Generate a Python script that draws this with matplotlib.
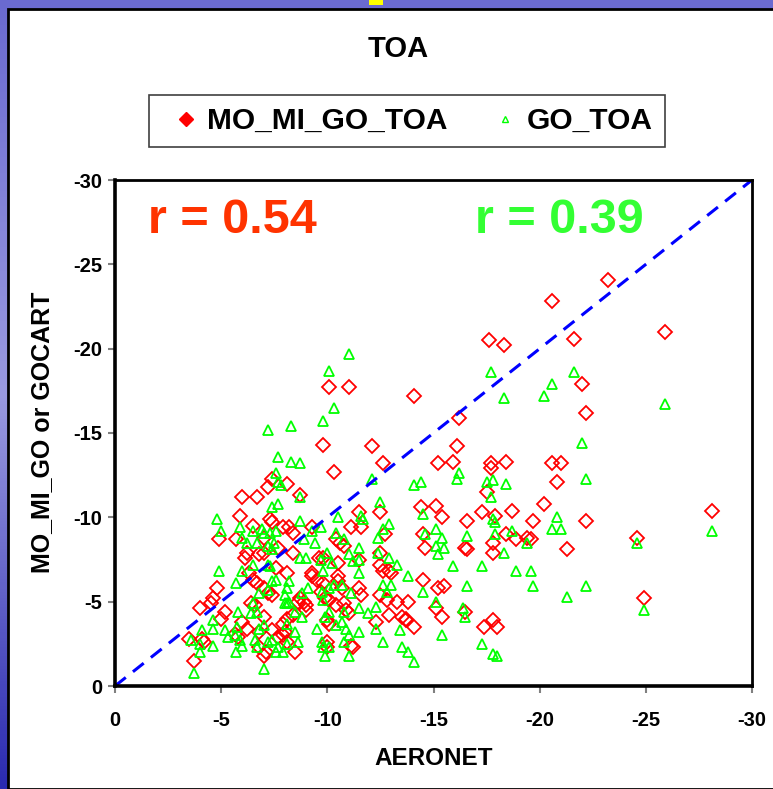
import numpy as np
import matplotlib.pyplot as plt
from matplotlib.lines import Line2D
from matplotlib.patches import Rectangle

plt.rcParams['font.family'] = ['Liberation Sans', 'DejaVu Sans']
plt.rcParams['font.weight'] = 'bold'
plt.rcParams['axes.unicode_minus'] = False

# AERONET (x) vs model (y) forcing values
mo_mi_go = [
    (-23.2, -24.1), (-20.6, -22.8), (-25.9, -21.0), (-17.6, -20.5), (-18.3, -20.2),
    (-21.6, -20.6), (-10.1, -17.7), (-11.0, -17.7), (-14.1, -17.2), (-22.0, -17.9),
    (-22.2, -16.2), (-16.2, -15.9), (-16.1, -14.2), (-15.2, -13.2), (-15.9, -13.3),
    (-17.7, -13.2), (-18.4, -13.3), (-17.7, -12.9), (-20.6, -13.2), (-21.0, -13.2),
    (-20.8, -12.1), (-17.5, -11.5), (-14.4, -10.6), (-15.1, -10.7), (-15.4, -10.0),
    (-16.6, -9.8), (-17.3, -10.3), (-17.9, -10.1), (-18.7, -10.4), (-20.2, -10.8),
    (-19.7, -9.8), (-14.5, -9.0), (-14.6, -8.2), (-16.5, -8.2), (-16.6, -8.1),
    (-17.8, -8.5), (-17.8, -7.9), (-18.4, -9.0), (-18.9, -8.7), (-19.4, -8.8),
    (-19.6, -8.7), (-21.3, -8.1), (-14.5, -6.3), (-15.2, -5.8), (-15.5, -5.9),
    (-13.8, -5.0), (-15.1, -4.6), (-15.4, -4.1), (-16.5, -4.4), (-13.7, -4.0),
    (-14.1, -3.5), (-17.4, -3.5), (-17.8, -3.9), (-18.0, -3.5), (-22.2, -9.8),
    (-24.6, -8.8), (-28.1, -10.4), (-24.9, -5.2), (-9.8, -14.3), (-12.1, -14.2),
    (-12.6, -13.2), (-10.3, -12.7), (-7.4, -12.3), (-7.2, -11.8), (-8.1, -12.0),
    (-6.0, -11.2), (-6.7, -11.2), (-8.7, -11.3), (-11.5, -10.3), (-12.5, -10.3),
    (-11.1, -9.4), (-11.6, -9.4), (-9.3, -9.4), (-8.2, -9.4), (-8.4, -9.1),
    (-10.4, -8.7), (-10.6, -8.5), (-10.8, -8.3), (-12.7, -9.0), (-12.5, -7.9),
    (-8.4, -7.9), (-9.6, -7.6), (-9.8, -7.6), (-10.5, -7.3), (-11.5, -7.5),
    (-12.5, -7.2), (-12.9, -6.8), (-13.0, -6.7), (-8.1, -6.7), (-9.3, -6.7),
    (-5.9, -10.1), (-6.5, -9.5), (-7.3, -9.9), (-7.4, -9.7), (-7.9, -9.4),
    (-7.0, -8.8), (-4.9, -8.7), (-5.7, -8.7), (-7.0, -7.9), (-6.2, -7.9),
    (-6.1, -7.6), (-6.8, -7.8), (-7.7, -8.2), (-7.6, -7.0), (-4.8, -5.8),
    (-4.6, -5.2), (-4.5, -4.9), (-4.0, -4.6), (-5.2, -4.4), (-5.0, -4.0),
    (-3.5, -2.8), (-4.1, -2.8), (-4.2, -2.6), (-3.7, -1.5), (-6.0, -3.8),
    (-6.2, -3.4), (-5.65, -3.1), (-5.8, -2.9), (-6.8, -3.2), (-6.3, -6.7),
    (-6.5, -6.3), (-6.7, -6.1), (-7.0, -5.8), (-7.2, -5.5), (-7.4, -5.4),
    (-6.4, -4.9), (-6.6, -4.8), (-7.0, -4.1), (-6.8, -2.3), (-7.0, -1.8),
    (-7.4, -3.3), (-7.7, -2.9), (-8.0, -3.2), (-8.1, -2.6), (-11.5, -5.8),
    (-11.6, -5.4), (-12.6, -6.8), (-12.5, -5.4), (-12.8, -5.1), (-13.3, -5.0),
    (-12.9, -4.2), (-12.3, -3.8), (-13.5, -4.1), (-13.7, -3.9), (-10.9, -4.5),
    (-11.0, -4.3), (-10.0, -3.9), (-10.1, -3.7), (-11.1, -2.4), (-11.2, -2.3),
    (-10.0, -2.6), (-10.0, -2.3), (-8.5, -2.0), (-7.9, -3.0), (-8.7, -5.2),
    (-8.9, -5.0), (-8.6, -5.0), (-9.0, -4.8), (-9.0, -4.5), (-9.3, -6.5),
    (-9.5, -6.3), (-9.8, -6.1), (-10.5, -6.5), (-10.5, -6.2), (-10.7, -5.8),
    (-8.4, -4.2), (-8.1, -4.0), (-7.9, -3.7), (-10.1, -5.1), (-10.4, -4.8),
    (-10.8, -4.9), (-9.9, -5.2), (-9.7, -5.6), (-7.1, -2.0),
]

gocart = [
    (-20.6, -17.9), (-20.2, -17.2), (-18.3, -17.1), (-16.2, -12.6), (-16.1, -12.3),
    (-14.1, -11.9), (-14.4, -12.1), (-17.5, -12.1), (-17.8, -12.2), (-18.4, -12.0),
    (-17.7, -11.2), (-20.8, -10.0), (-20.6, -9.3), (-21.0, -9.3), (-14.5, -10.2),
    (-17.8, -9.9), (-17.9, -9.7), (-15.1, -9.3), (-14.6, -9.0), (-15.4, -8.8),
    (-16.6, -8.9), (-17.9, -9.0), (-18.7, -9.2), (-19.4, -8.5), (-15.1, -8.3),
    (-15.5, -8.2), (-15.2, -7.8), (-18.3, -7.9), (-15.9, -7.1), (-17.3, -7.1),
    (-18.9, -6.8), (-19.6, -6.8), (-19.7, -5.9), (-21.3, -5.3), (-13.8, -6.5),
    (-16.6, -5.9), (-14.5, -5.6), (-15.1, -5.0), (-16.4, -4.6), (-16.5, -4.1),
    (-15.4, -3.0), (-17.3, -2.5), (-17.8, -1.9), (-18.0, -1.8), (-13.8, -2.0),
    (-14.1, -1.4), (-13.5, -2.3), (-17.7, -18.6), (-21.6, -18.6), (-25.9, -16.7),
    (-22.0, -14.4), (-22.2, -12.3), (-24.6, -8.5), (-28.1, -9.2), (-24.9, -4.5),
    (-22.2, -5.9), (-11.0, -19.7), (-10.1, -18.7), (-10.3, -16.5), (-9.8, -15.7),
    (-8.3, -15.4), (-7.2, -15.2), (-7.7, -13.6), (-8.3, -13.3), (-8.7, -13.2),
    (-7.6, -12.6), (-7.7, -12.1), (-7.8, -11.9), (-12.1, -12.3), (-8.7, -11.2),
    (-12.5, -10.9), (-10.5, -10.0), (-11.6, -10.1), (-11.7, -9.9), (-12.9, -9.6),
    (-8.7, -9.8), (-12.6, -9.3), (-12.4, -8.8), (-9.7, -9.4), (-9.3, -9.2),
    (-10.4, -9.1), (-8.9, -8.7), (-9.4, -8.5), (-10.8, -8.7), (-11.5, -8.2),
    (-10.0, -7.9), (-11.0, -7.8), (-12.4, -7.9), (-12.9, -7.6), (-8.7, -7.6),
    (-9.0, -7.6), (-9.7, -7.5), (-10.2, -7.3), (-11.5, -7.5), (-11.2, -7.4),
    (-13.3, -7.2), (-11.5, -6.7), (-9.8, -6.8), (-7.7, -10.8), (-7.4, -10.6),
    (-4.8, -9.9), (-5.0, -9.2), (-5.9, -9.4), (-6.5, -9.2), (-6.0, -8.8),
    (-6.9, -9.3), (-7.0, -9.1), (-7.3, -9.1), (-7.6, -9.2), (-6.2, -8.5),
    (-6.7, -8.5), (-7.2, -8.3), (-7.5, -8.5), (-7.4, -8.1), (-4.9, -6.8),
    (-6.0, -6.8), (-6.5, -7.2), (-7.2, -7.2), (-7.3, -7.1), (-5.7, -6.1),
    (-5.8, -4.4), (-4.6, -3.9), (-4.1, -3.3), (-4.6, -3.4), (-3.6, -2.7),
    (-4.0, -2.5), (-4.6, -2.4), (-4.0, -2.0), (-5.2, -3.3), (-5.3, -2.9),
    (-5.75, -3.5), (-5.65, -3.0), (-5.9, -2.7), (-5.7, -2.0), (-6.0, -2.4),
    (-3.7, -0.8), (-7.0, -1.0), (-6.4, -4.3), (-6.7, -4.4), (-6.8, -3.4),
    (-7.0, -3.6), (-6.6, -2.7), (-6.7, -2.3), (-7.2, -2.6), (-7.4, -2.7),
    (-7.6, -2.0), (-7.7, -2.3), (-6.5, -4.9), (-6.8, -5.5), (-7.2, -5.7),
    (-7.4, -6.2), (-7.6, -6.3), (-8.0, -4.9), (-12.6, -6.0), (-13.0, -6.0),
    (-12.8, -5.6), (-11.5, -4.6), (-12.3, -4.7), (-11.9, -4.3), (-12.3, -3.4),
    (-11.5, -3.2), (-12.6, -2.6), (-13.4, -3.3), (-11.0, -1.8), (-10.9, -3.4),
    (-11.0, -3.0), (-10.8, -2.6), (-10.1, -2.3), (-9.9, -1.8), (-9.75, -2.6),
    (-9.8, -2.3), (-9.5, -3.4), (-10.1, -4.4), (-9.9, -4.1), (-10.7, -3.8),
    (-10.8, -4.4), (-10.4, -3.6), (-8.5, -3.2), (-8.6, -2.6), (-8.1, -2.5),
    (-7.9, -2.0), (-8.2, -6.2), (-8.1, -5.8), (-8.0, -5.4), (-8.8, -5.5),
    (-9.1, -5.8), (-10.1, -5.8), (-10.3, -6.0), (-9.75, -5.6), (-9.8, -5.1),
    (-10.7, -6.0), (-11.1, -5.5), (-8.5, -4.4), (-8.8, -4.1), (-8.1, -3.7),
    (-8.1, -4.9), (-8.2, -5.0),
]

r_values = ["r = 0.54", "r = 0.39"]
ticks = [0, -5, -10, -15, -20, -25, -30]

W, H = 773, 789
fig = plt.figure(figsize=(W / 100, H / 100), dpi=100)

# slide background: blue strip on top/left, white panel with black edge
bg = fig.add_axes([0, 0, 1, 1], zorder=-10)
grad = np.linspace(0, 1, 256).reshape(-1, 1)
bg.imshow(grad, aspect='auto', cmap=plt.matplotlib.colors.LinearSegmentedColormap.from_list(
    'slide', ['#6a6ad0', '#9a9ae0', '#2a2ab0']), extent=[0, 1, 0, 1])
bg.set_axis_off()
fig.patches.append(Rectangle((8 / W, 0), 1, 1 - 9 / H, transform=fig.transFigure,
                             facecolor='white', edgecolor='black', lw=2, zorder=-5))
fig.patches.append(Rectangle((369 / W, 1 - 5 / H), 14 / W, 5 / H, transform=fig.transFigure,
                             facecolor='#ffff00', edgecolor='none', zorder=-4))

ax = fig.add_axes([115 / W, 1 - 686 / H, 637 / W, 506 / H])

mx, my = zip(*mo_mi_go)
gx, gy = zip(*gocart)
ax.plot(mx, my, linestyle='none', marker='D', markersize=7, markerfacecolor='none',
        markeredgecolor='#ff0000', markeredgewidth=1.3)
ax.plot(gx, gy, linestyle='none', marker='^', markersize=6.5, markerfacecolor='none',
        markeredgecolor='#00ff00', markeredgewidth=1.3)
ax.plot([0, -30], [0, -30], color='#0000ff', lw=2.2, dashes=(4.5, 3))

ax.set_xlim(0, -30)
ax.set_ylim(0, -30)
ax.set_xticks(ticks)
ax.set_yticks(ticks)
ax.set_xticklabels([str(t) for t in ticks])
ax.set_yticklabels([str(t) for t in ticks])
ax.tick_params(direction='out', length=5, width=1.5, color='#808080', labelsize=14.5)
ax.tick_params(axis='x', pad=13)
ax.tick_params(axis='y', pad=4)
for lab in ax.get_xticklabels() + ax.get_yticklabels():
    lab.set_fontweight('bold')

for side in ['left', 'bottom']:
    ax.spines[side].set_linewidth(2.6)
for side in ['top', 'right']:
    ax.spines[side].set_linewidth(2.0)
for s in ax.spines.values():
    s.set_color('black')

ax.set_xlabel('AERONET', fontsize=17.5, fontweight='bold', labelpad=12)
fig.text(42 / W, 1 - 432 / H, 'MO_MI_GO or GOCART', rotation=90, fontsize=18,
         fontweight='bold', ha='center', va='center')

ax.text((232 - 115) / 637, 0.92, r_values[0], transform=ax.transAxes, color='#ff3300',
        fontsize=35, fontweight='bold', ha='center', va='center')
ax.text((559 - 115) / 637, 0.92, r_values[1], transform=ax.transAxes, color='#33ff33',
        fontsize=35, fontweight='bold', ha='center', va='center')

fig.text(398 / W, 1 - 49 / H, 'TOA', fontsize=21, fontweight='bold',
         ha='center', va='center')

handles = [
    Line2D([], [], linestyle='none', marker='D', markersize=7, color='#ff0000'),
    Line2D([], [], linestyle='none', marker='^', markersize=5, markerfacecolor='none',
           markeredgecolor='#00ff00', markeredgewidth=1),
]
leg = fig.legend(handles, ['MO_MI_GO_TOA', 'GO_TOA'], loc='center',
                 bbox_to_anchor=(407 / W, 1 - 121 / H), ncol=2, fancybox=False,
                 edgecolor='#404040', framealpha=1, prop={'size': 21.5, 'weight': 'bold'},
                 handlelength=1.65, handletextpad=-0.1, columnspacing=1.1,
                 borderpad=0.4)
leg.get_frame().set_linewidth(1.2)

fig.savefig('out.png', dpi=100)
